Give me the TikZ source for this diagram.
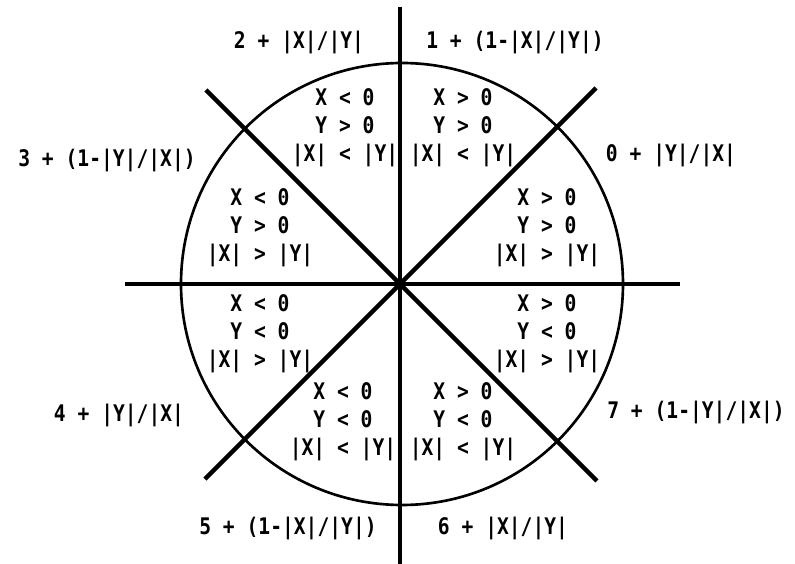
\documentclass[tikz,border=0pt]{standalone}
\usepackage{fontspec}
\newfontfamily\plotfont[FakeStretch=0.86]{DejaVu Sans Mono}
\usepackage{tikz}
\usetikzlibrary{positioning, calc}

\begin{document}
\begin{tikzpicture}[x=0.02cm, y=0.02cm,
    axis/.style={line width=2.6pt},
    region/.style={font=\plotfont\bfseries\fontsize{13}{15.9}\selectfont, align=center, inner sep=0pt},
    formula/.style={font=\plotfont\bfseries\fontsize{13}{15.9}\selectfont, inner sep=0pt}]
    \useasboundingbox (-400,-280) rectangle (395,284);

    % Circle and dividing lines
    \draw[line width=1.5pt] (2,0) circle (221);
    \draw[axis] (0,277) -- (0,-280);
    \draw[axis] (-275,0) -- (280,0);
    \draw[axis] (-194,194) -- (197,-197);
    \draw[axis] (196,196) -- (-195,-195);

    % Octant conditions
    \node[region] (o1) at (63,156)   {X > 0\\Y > 0\\|X| < |Y|};
    \node[region] (o2) at (-55,156)  {X < 0\\Y > 0\\|X| < |Y|};
    \node[region] (o0) at (147,56)   {X > 0\\Y > 0\\|X| > |Y|};
    \node[region] (o3) at (-140,56)  {X < 0\\Y > 0\\|X| > |Y|};
    \node[region] (o4) at (-140,-50) {X < 0\\Y < 0\\|X| > |Y|};
    \node[region] (o7) at (147,-50)  {X > 0\\Y < 0\\|X| > |Y|};
    \node[region] (o5) at (-57,-138) {X < 0\\Y < 0\\|X| < |Y|};
    \node[region] (o6) at (63,-138)  {X > 0\\Y < 0\\|X| < |Y|};

    % Octant formulas
    \node[formula] (f2) at (-101,242) {2 + |X|/|Y|};
    \node[formula] (f1) at (115,242)  {1 + (1-|X|/|Y|)};
    \node[formula] (f3) at (-293,124) {3 + (1-|Y|/|X|)};
    \node[formula] (f0) at (271,129)  {0 + |Y|/|X|};
    \node[formula] (f4) at (-281,-131) {4 + |Y|/|X|};
    \node[formula] (f7) at (296,-128) {7 + (1-|Y|/|X|)};
    \node[formula] (f5) at (-112,-244) {5 + (1-|X|/|Y|)};
    \node[formula] (f6) at (103,-244) {6 + |X|/|Y|};
\end{tikzpicture}
\end{document}
